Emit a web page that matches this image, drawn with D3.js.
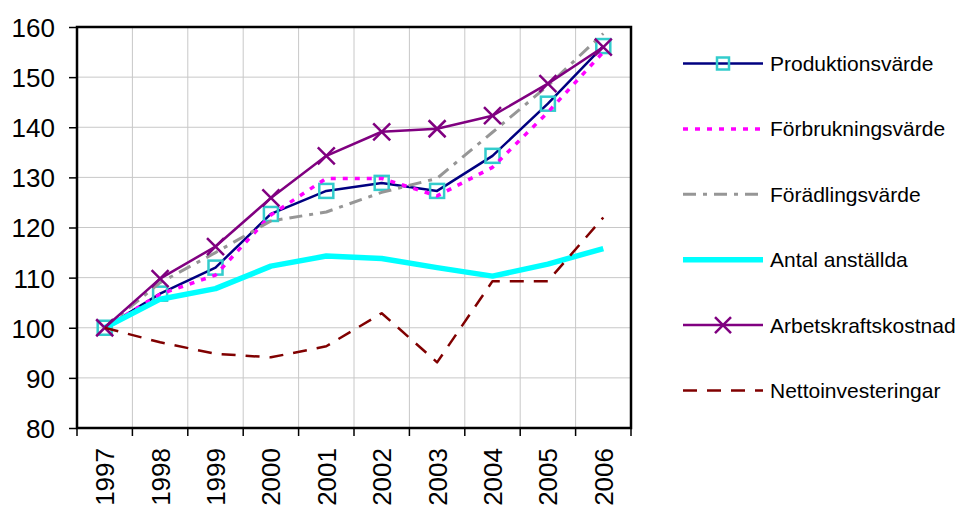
<!DOCTYPE html>
<html>
<head>
<meta charset="utf-8">
<script src="https://cdn.jsdelivr.net/npm/d3@7"></script>
<style>
  body { margin: 0; background: #fff; }
  text { font-family: "Liberation Sans", Arial, sans-serif; fill: #000; }
</style>
</head>
<body>
<div id="chart"></div>
<script>
var years = ["1997", "1998", "1999", "2000", "2001", "2002", "2003", "2004", "2005", "2006"];
var yTicks = [80, 90, 100, 110, 120, 130, 140, 150, 160];

var produktionsvarde = [100, 106.8, 112, 122.7, 127.3, 128.9, 127.3, 134.3, 144.7, 156.2];
var forbrukningsvarde = [100, 106.7, 110.5, 122.5, 129.8, 129.8, 126.3, 132, 143, 155];
var foradlingsvarde = [100, 109, 115, 121.3, 123.1, 127, 129.8, 139, 148.3, 158.7];
var antalAnstallda = [100, 105.7, 107.8, 112.3, 114.3, 113.8, 112, 110.3, 112.7, 115.8];
var arbetskraftskostnad = [100, 109.8, 116.2, 125.9, 134.3, 139.1, 139.7, 142.3, 148.7, 156];
var nettoinvesteringar = [100, 97.1, 94.8, 94.1, 96.3, 102.9, 93.1, 109.3, 109.3, 122];

var seriesNames = ["Produktionsvärde", "Förbrukningsvärde", "Förädlingsvärde",
  "Antal anställda", "Arbetskraftskostnad", "Nettoinvesteringar"];

var series = [
  { name: seriesNames[0], values: produktionsvarde, color: "#000080", width: 2.5, dash: null, marker: "square" },
  { name: seriesNames[1], values: forbrukningsvarde, color: "#FF00FF", width: 3.5, dash: "5,7", marker: null },
  { name: seriesNames[2], values: foradlingsvarde, color: "#969696", width: 3, dash: "13,7,4,7", marker: null },
  { name: seriesNames[3], values: antalAnstallda, color: "#00FFFF", width: 5.5, dash: null, marker: null },
  { name: seriesNames[4], values: arbetskraftskostnad, color: "#800080", width: 2.5, dash: null, marker: "x" },
  { name: seriesNames[5], values: nettoinvesteringar, color: "#800000", width: 2.5, dash: "14,10", marker: null }
];

var svgWidth = 960;
var svgHeight = 507;
var margin = { top: 27, right: 329, bottom: 79, left: 77 };
var width = svgWidth - margin.left - margin.right;
var height = svgHeight - margin.top - margin.bottom;

var svg = d3.select("#chart")
  .append("svg")
  .attr("width", svgWidth)
  .attr("height", svgHeight);

var chartGroup = svg.append("g")
  .attr("transform", `translate(${margin.left}, ${margin.top})`);

var xBand = d3.scaleBand().domain(years).range([0, width]).padding(0);
var yScale = d3.scaleLinear().domain([80, 160]).range([height, 0]);
var xCenter = d => xBand(d) + xBand.bandwidth() / 2;

// gridlines
chartGroup.append("g")
  .selectAll("line.hgrid")
  .data(yTicks)
  .enter()
  .append("line")
  .attr("x1", 0).attr("x2", width)
  .attr("y1", d => yScale(d)).attr("y2", d => yScale(d))
  .attr("stroke", "#c8c8c8").attr("stroke-width", 1);

chartGroup.append("g")
  .selectAll("line.vgrid")
  .data(years.slice(1))
  .enter()
  .append("line")
  .attr("x1", d => xBand(d)).attr("x2", d => xBand(d))
  .attr("y1", 0).attr("y2", height)
  .attr("stroke", "#c8c8c8").attr("stroke-width", 1);

// y axis
var leftAxis = d3.axisLeft(yScale).tickValues(yTicks).tickSize(8).tickPadding(14);
var yAxisG = chartGroup.append("g").call(leftAxis);
yAxisG.select(".domain").remove();
yAxisG.selectAll("text").style("font-size", "26px").attr("dy", "0.36em");
yAxisG.selectAll("line").attr("stroke", "#000").attr("stroke-width", 1.5);

// x axis: labels at category centers, ticks at boundaries
var xAxisG = chartGroup.append("g").attr("transform", `translate(0, ${height})`);
xAxisG.selectAll("line")
  .data(years.map(d => xBand(d)).concat([width]))
  .enter()
  .append("line")
  .attr("x1", d => d).attr("x2", d => d)
  .attr("y1", 0).attr("y2", 8)
  .attr("stroke", "#000").attr("stroke-width", 1.5);

xAxisG.selectAll("text")
  .data(years)
  .enter()
  .append("text")
  .attr("transform", d => `translate(${xCenter(d) + 9.5}, 20) rotate(-90)`)
  .attr("text-anchor", "end")
  .style("font-size", "26px")
  .text(d => d);

// series lines
var line = d3.line()
  .x((d, i) => xCenter(years[i]))
  .y(d => yScale(d));

series.forEach(function(s) {
  chartGroup.append("path")
    .datum(s.values)
    .attr("fill", "none")
    .attr("stroke", s.color)
    .attr("stroke-width", s.width)
    .attr("stroke-dasharray", s.dash)
    .attr("stroke-linejoin", "round")
    .attr("d", line);

  if (s.marker === "square") {
    chartGroup.selectAll(null)
      .data(s.values)
      .enter()
      .append("rect")
      .attr("x", (d, i) => xCenter(years[i]) - 7)
      .attr("y", d => yScale(d) - 7)
      .attr("width", 14).attr("height", 14)
      .attr("fill", "none")
      .attr("stroke", "#33CCCC")
      .attr("stroke-width", 2.5);
  }
  if (s.marker === "x") {
    chartGroup.selectAll(null)
      .data(s.values)
      .enter()
      .append("path")
      .attr("d", (d, i) => {
        var cx = xCenter(years[i]), cy = yScale(d), r = 8.5;
        return `M${cx - r},${cy - r}L${cx + r},${cy + r}M${cx - r},${cy + r}L${cx + r},${cy - r}`;
      })
      .attr("stroke", s.color)
      .attr("stroke-width", 2.5);
  }
});

// frame
chartGroup.append("rect")
  .attr("x", 0).attr("y", 0)
  .attr("width", width).attr("height", height)
  .attr("fill", "none")
  .attr("stroke", "#000")
  .attr("stroke-width", 2.5);

// legend
var legend = svg.append("g");
series.forEach(function(s, i) {
  var ly = 63.5 + i * 65.4;
  legend.append("line")
    .attr("x1", 683).attr("x2", 763)
    .attr("y1", ly).attr("y2", ly)
    .attr("stroke", s.color)
    .attr("stroke-width", s.width)
    .attr("stroke-dasharray", s.dash);
  if (s.marker === "square") {
    legend.append("rect")
      .attr("x", 723 - 6).attr("y", ly - 6)
      .attr("width", 12).attr("height", 12)
      .attr("fill", "none").attr("stroke", "#33CCCC").attr("stroke-width", 2.5);
  }
  if (s.marker === "x") {
    legend.append("path")
      .attr("d", `M715,${ly - 8}L731,${ly + 8}M715,${ly + 8}L731,${ly - 8}`)
      .attr("stroke", s.color).attr("stroke-width", 2.5);
  }
  legend.append("text")
    .attr("x", 770)
    .attr("y", ly + 7.5)
    .style("font-size", "21px")
    .text(s.name);
});
</script>
</body>
</html>
